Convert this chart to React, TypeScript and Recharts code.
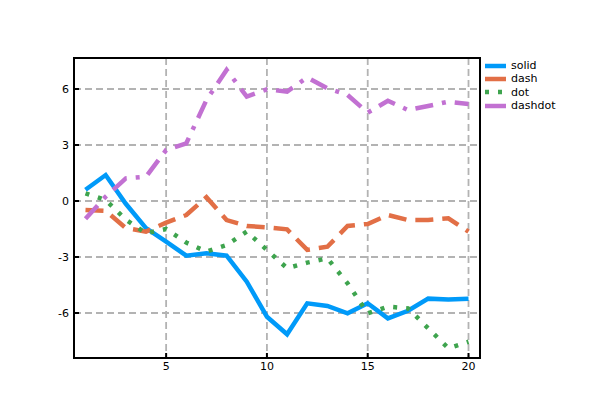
import React from 'react';
import {
    LineChart,
    Line,
    XAxis,
    YAxis,
    CartesianGrid,
    ReferenceArea,
} from 'recharts';

// x positions 1..20
const xValues = [1, 2, 3, 4, 5, 6, 7, 8, 9, 10, 11, 12, 13, 14, 15, 16, 17, 18, 19, 20];

// series values
const solidValues = [0.6, 1.39, -0.15, -1.45, -2.18, -2.93, -2.8, -2.93, -4.32, -6.2, -7.14, -5.48, -5.62, -6.02, -5.48, -6.29, -5.88, -5.23, -5.27, -5.23];
const dashValues = [-0.48, -0.53, -1.45, -1.64, -1.16, -0.75, 0.2, -1.02, -1.34, -1.41, -1.52, -2.62, -2.45, -1.34, -1.23, -0.75, -1.02, -1.02, -0.93, -1.64];
const dotValues = [0.41, 0.05, -1.0, -1.73, -1.5, -2.23, -2.71, -2.36, -1.64, -2.62, -3.6, -3.3, -3.07, -4.41, -6.02, -5.66, -5.75, -6.82, -7.89, -7.54];
const dashdotValues = [-0.95, 0.23, 1.21, 1.3, 2.73, 3.09, 5.41, 7.02, 5.59, 5.98, 5.86, 6.62, 6.04, 5.68, 4.73, 5.37, 4.87, 5.09, 5.32, 5.2];

const xTicks = [5, 10, 15, 20];
const yTicks = [-6, -3, 0, 3, 6];

const X_DOMAIN: [number, number] = [0.43, 20.57];
const Y_DOMAIN: [number, number] = [-8.41, 7.66];

// name, color, dash pattern
const SERIES = [
    { key: 'solid', color: '#009AF9', dash: undefined as string | undefined },
    { key: 'dash', color: '#E26F46', dash: '18 9' },
    { key: 'dot', color: '#3EA44E', dash: '4 9' },
    { key: 'dashdot', color: '#C271D2', dash: '18 9 4 9' },
];

const data = xValues.map((x, i) => ({
    x,
    solid: solidValues[i],
    dash: dashValues[i],
    dot: dotValues[i],
    dashdot: dashdotValues[i],
}));

const FONT = '"DejaVu Sans", sans-serif';

// x tick: label below, short tick mark pointing into the plot
function XTick({ x, y, payload }: { x?: number; y?: number; payload?: { value: number } }) {
    if (x == null || y == null || !payload) return null;
    return (
        <g>
            <line x1={x} y1={y - 4} x2={x} y2={y - 9} stroke="#000" strokeWidth={2} />
            <text x={x} y={y} dy="0.71em" textAnchor="middle" fontSize={11} fontFamily={FONT} fill="#000">
                {payload.value}
            </text>
        </g>
    );
}

function YTick({ x, y, payload }: { x?: number; y?: number; payload?: { value: number } }) {
    if (x == null || y == null || !payload) return null;
    return (
        <g>
            <line x1={x + 5} y1={y} x2={x + 10} y2={y} stroke="#000" strokeWidth={2} />
            <text x={x} y={y} dy="0.355em" textAnchor="end" fontSize={11} fontFamily={FONT} fill="#000">
                {payload.value}
            </text>
        </g>
    );
}

function LegendBox() {
    return (
        <div style={{ position: 'absolute', left: 484, top: 59, fontFamily: FONT, fontSize: 11, color: '#000' }}>
            {SERIES.map((s) => (
                <div key={s.key} style={{ display: 'flex', alignItems: 'center', height: 13.3 }}>
                    <svg width={24} height={10} style={{ marginRight: 3 }}>
                        <line
                            x1={1}
                            y1={5}
                            x2={22}
                            y2={5}
                            stroke={s.color}
                            strokeWidth={4.5}
                            strokeDasharray={s.key === 'dot' ? '4 9' : undefined}
                        />
                    </svg>
                    <span>{s.key}</span>
                </div>
            ))}
        </div>
    );
}

export default function App() {
    return (
        <div style={{ position: 'relative', width: 600, height: 400, margin: -8, background: '#fff' }}>
            <LineChart
                width={600}
                height={400}
                data={data}
                margin={{ top: 58, right: 120, left: 34, bottom: 12 }}
            >
                <CartesianGrid stroke="#b3b3b3" strokeDasharray="7 4" strokeWidth={1.8} />
                <XAxis
                    type="number"
                    dataKey="x"
                    domain={X_DOMAIN}
                    ticks={xTicks}
                    allowDataOverflow
                    axisLine={false}
                    tickLine={false}
                    tickSize={0}
                    tickMargin={4}
                    height={30}
                    tick={<XTick />}
                />
                <YAxis
                    type="number"
                    domain={Y_DOMAIN}
                    ticks={yTicks}
                    allowDataOverflow
                    axisLine={false}
                    tickLine={false}
                    tickSize={0}
                    tickMargin={5}
                    width={40}
                    tick={<YTick />}
                />
                {SERIES.map((s) => (
                    <Line
                        key={s.key}
                        type="linear"
                        dataKey={s.key}
                        stroke={s.color}
                        strokeWidth={4.5}
                        strokeDasharray={s.dash}
                        dot={false}
                        activeDot={false}
                        isAnimationActive={false}
                    />
                ))}
                <ReferenceArea
                    x1={X_DOMAIN[0]}
                    x2={X_DOMAIN[1]}
                    y1={Y_DOMAIN[0]}
                    y2={Y_DOMAIN[1]}
                    fill="none"
                    fillOpacity={0}
                    stroke="#000"
                    strokeWidth={2}
                    ifOverflow="visible"
                />
            </LineChart>
            <LegendBox />
        </div>
    );
}
